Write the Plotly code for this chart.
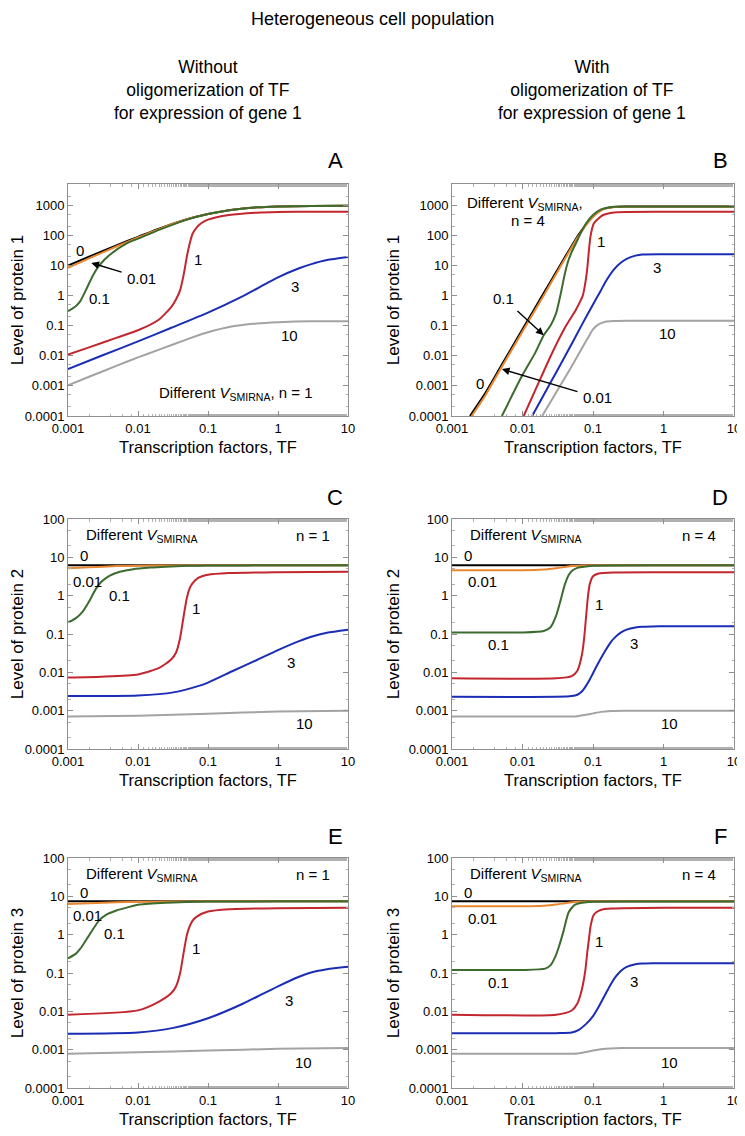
import numpy as np
import plotly.graph_objects as go

FONT = "Liberation Sans, Arial, Helvetica, sans-serif"

# ---------------- data ----------------
# Panel A : protein 1, n = 1
A0_x = [0.001, 0.002, 0.005, 0.01, 0.02, 0.05, 0.1, 0.2, 0.5, 1, 3, 10]
A0_y = [9.8, 19.5, 47, 88, 165, 340, 510, 680, 840, 900, 930, 950]
A001_x = [0.001, 0.002, 0.005, 0.01, 0.02, 0.05, 0.1, 0.2, 0.5, 1, 3, 10]
A001_y = [8.3, 17, 43, 84, 160, 337, 508, 679, 840, 900, 930, 950]
A01_x = [0.001, 0.0013, 0.0015, 0.0018, 0.0023, 0.0028, 0.004, 0.007, 0.01, 0.02, 0.05, 0.1, 0.2, 0.5, 1, 3, 10]
A01_y = [0.3, 0.45, 0.65, 1.5, 4.9, 10, 23, 55, 77, 150, 330, 505, 680, 840, 900, 930, 950]
A1_x = [0.001, 0.002, 0.005, 0.01, 0.02, 0.03, 0.035, 0.04, 0.045, 0.05, 0.055, 0.06, 0.07, 0.08, 0.1, 0.2, 0.5, 1, 3, 10]
A1_y = [0.011, 0.019, 0.04, 0.07, 0.16, 0.42, 0.75, 1.5, 5, 20, 55, 110, 190, 250, 330, 470, 560, 590, 600, 600]
A3_x = [0.001, 0.003, 0.01, 0.03, 0.1, 0.3, 1, 2, 3, 5, 10]
A3_y = [0.0036, 0.01, 0.03, 0.085, 0.27, 0.9, 4, 8, 11, 15, 19]
A10_x = [0.001, 0.002, 0.005, 0.01, 0.02, 0.05, 0.1, 0.2, 0.5, 1, 3, 10]
A10_y = [0.00105, 0.002, 0.0047, 0.0088, 0.016, 0.035, 0.06, 0.09, 0.118, 0.13, 0.14, 0.14]

# Panel B : protein 1, n = 4
B0_x = [0.0018, 0.003, 0.005, 0.01, 0.02, 0.03, 0.04, 0.05, 0.06, 0.07, 0.08, 0.1, 0.12, 0.15, 0.2, 0.3, 1, 10]
B0_y = [0.0001, 0.0006, 0.0047, 0.075, 1.2, 6, 19, 45, 90, 150, 230, 420, 600, 780, 870, 900, 900, 900]
B001_x = [0.0019, 0.003, 0.005, 0.01, 0.02, 0.03, 0.04, 0.05, 0.06, 0.07, 0.08, 0.1, 0.12, 0.15, 0.2, 0.3, 1, 10]
B001_y = [0.0001, 0.0005, 0.004, 0.064, 1.0, 5.2, 16.5, 40, 82, 140, 220, 410, 595, 775, 870, 900, 900, 900]
B01_x = [0.0051, 0.0099, 0.015, 0.02, 0.025, 0.03, 0.035, 0.04, 0.045, 0.05, 0.06, 0.07, 0.08, 0.1, 0.13, 0.2, 0.3, 1, 10]
B01_y = [0.0001, 0.0022, 0.012, 0.048, 0.1, 0.26, 1.2, 5.5, 15, 28, 68, 145, 250, 470, 720, 880, 900, 900, 900]
B1_x = [0.0104, 0.017, 0.0265, 0.041, 0.057, 0.065, 0.071, 0.075, 0.079, 0.083, 0.086, 0.092, 0.103, 0.137, 0.2, 1, 10]
B1_y = [0.0001, 0.0013, 0.0128, 0.095, 0.33, 0.6, 0.93, 1.6, 3.3, 8, 20, 90, 250, 460, 570, 600, 600]
B3_x = [0.0137, 0.02, 0.03, 0.05, 0.07, 0.1, 0.13, 0.15, 0.2, 0.25, 0.3, 0.4, 0.5, 1, 10]
B3_y = [0.0001, 0.0005, 0.0028, 0.025, 0.11, 0.5, 1.5, 2.8, 7.5, 12.5, 16.5, 21, 23, 23.5, 23.5]
B10_x = [0.019, 0.03, 0.05, 0.07, 0.09, 0.1, 0.12, 0.15, 0.2, 0.3, 1, 10]
B10_y = [0.0001, 0.0006, 0.0045, 0.018, 0.05, 0.075, 0.11, 0.135, 0.142, 0.145, 0.145, 0.145]

# Panel C : protein 2, n = 1
C0_x = [0.001, 0.01, 0.1, 1, 10]
C0_y = [6.2, 6.2, 6.2, 6.2, 6.2]
C001_x = [0.001, 0.002, 0.005, 0.01, 0.03, 0.1, 1, 10]
C001_y = [5.2, 5.5, 5.9, 6.05, 6.15, 6.2, 6.2, 6.2]
C01_x = [0.001, 0.0013, 0.0016, 0.002, 0.0025, 0.003, 0.0039, 0.0055, 0.0085, 0.015, 0.025, 0.05, 0.1, 1, 10]
C01_y = [0.2, 0.26, 0.37, 0.7, 1.5, 2.3, 3.3, 4.2, 4.9, 5.4, 5.7, 6.0, 6.1, 6.2, 6.2]
C1_x = [0.001, 0.003, 0.01, 0.02, 0.03, 0.035, 0.04, 0.045, 0.05, 0.055, 0.06, 0.07, 0.1, 0.2, 1, 10]
C1_y = [0.0073, 0.0077, 0.0088, 0.013, 0.022, 0.033, 0.08, 0.3, 0.9, 1.6, 2.1, 2.8, 3.5, 3.9, 4.1, 4.2]
C3_x = [0.001, 0.01, 0.032, 0.076, 0.1, 0.23, 0.5, 1, 2, 3, 5, 10]
C3_y = [0.0024, 0.0025, 0.003, 0.0045, 0.0054, 0.011, 0.021, 0.038, 0.065, 0.085, 0.108, 0.13]
C10_x = [0.001, 0.01, 0.1, 1, 10]
C10_y = [0.0007, 0.00074, 0.00083, 0.00095, 0.001]

# Panel D : protein 2, n = 4
D0_x = [0.001, 0.01, 0.1, 1, 10]
D0_y = [6.2, 6.2, 6.2, 6.2, 6.2]
D001_x = [0.001, 0.01, 0.02, 0.03, 0.04, 0.05, 0.07, 0.1, 1, 10]
D001_y = [4.6, 4.6, 4.8, 5.2, 5.6, 5.9, 6.1, 6.2, 6.2, 6.2]
D01_x = [0.001, 0.01, 0.02, 0.025, 0.03, 0.035, 0.04, 0.045, 0.05, 0.06, 0.08, 0.1, 1, 10]
D01_y = [0.11, 0.11, 0.12, 0.15, 0.3, 0.8, 2.0, 3.4, 4.4, 5.3, 5.8, 6.05, 6.2, 6.2]
D1_x = [0.001, 0.03, 0.05, 0.06, 0.07, 0.075, 0.08, 0.085, 0.09, 0.1, 0.12, 0.2, 1, 10]
D1_y = [0.007, 0.007, 0.008, 0.011, 0.03, 0.08, 0.3, 1.0, 2.0, 3.2, 3.8, 4.05, 4.1, 4.1]
D3_x = [0.001, 0.03, 0.05, 0.06, 0.07, 0.08, 0.09, 0.1, 0.12, 0.15, 0.18, 0.2, 0.25, 0.3, 0.4, 0.5, 0.7, 1, 10]
D3_y = [0.0023, 0.0023, 0.0024, 0.0026, 0.0032, 0.0045, 0.0065, 0.0095, 0.018, 0.037, 0.062, 0.078, 0.11, 0.13, 0.148, 0.155, 0.158, 0.16, 0.16]
D10_x = [0.001, 0.04, 0.06, 0.08, 0.1, 0.13, 0.18, 0.26, 1, 10]
D10_y = [0.0007, 0.0007, 0.00072, 0.00078, 0.00085, 0.00093, 0.00098, 0.001, 0.001, 0.001]

# Panel E : protein 3, n = 1
E0_x = [0.001, 0.01, 0.1, 1, 10]
E0_y = [7.4, 7.4, 7.4, 7.4, 7.4]
E001_x = [0.001, 0.002, 0.005, 0.01, 0.03, 0.1, 1, 10]
E001_y = [6.3, 6.6, 7.0, 7.2, 7.3, 7.4, 7.4, 7.4]
E01_x = [0.001, 0.0013, 0.0015, 0.002, 0.0028, 0.0035, 0.0048, 0.0075, 0.0105, 0.025, 0.05, 0.1, 1, 10]
E01_y = [0.24, 0.32, 0.43, 0.96, 2.4, 3.3, 4.2, 5.3, 6.1, 6.8, 7.1, 7.3, 7.4, 7.4]
E1_x = [0.001, 0.01, 0.02, 0.03, 0.035, 0.04, 0.045, 0.05, 0.055, 0.06, 0.07, 0.1, 0.2, 1, 10]
E1_y = [0.0082, 0.0106, 0.018, 0.03, 0.045, 0.1, 0.35, 1.0, 1.7, 2.3, 3.0, 4.0, 4.6, 4.9, 5.0]
E3_x = [0.001, 0.01, 0.032, 0.1, 0.32, 0.5, 1, 2, 2.8, 5, 10]
E3_y = [0.0026, 0.0028, 0.0037, 0.0066, 0.016, 0.024, 0.045, 0.08, 0.1, 0.125, 0.145]
E10_x = [0.001, 0.01, 0.1, 1, 10]
E10_y = [0.00078, 0.00085, 0.00095, 0.00105, 0.0011]

# Panel F : protein 3, n = 4
F0_x = [0.001, 0.01, 0.1, 1, 10]
F0_y = [7.4, 7.4, 7.4, 7.4, 7.4]
F001_x = [0.001, 0.01, 0.02, 0.03, 0.04, 0.05, 0.06, 0.08, 0.1, 1, 10]
F001_y = [5.5, 5.5, 5.7, 6.1, 6.6, 7.0, 7.2, 7.3, 7.4, 7.4, 7.4]
F01_x = [0.001, 0.01, 0.021, 0.025, 0.029, 0.033, 0.038, 0.045, 0.055, 0.07, 0.087, 0.1, 1, 10]
F01_y = [0.12, 0.12, 0.13, 0.16, 0.26, 0.5, 1.2, 3.8, 6.0, 6.8, 7.1, 7.2, 7.3, 7.3]
F1_x = [0.001, 0.03, 0.05, 0.06, 0.066, 0.072, 0.078, 0.083, 0.087, 0.092, 0.097, 0.1, 0.105, 0.12, 0.14, 0.18, 0.26, 1, 10]
F1_y = [0.0082, 0.0082, 0.0105, 0.016, 0.026, 0.05, 0.12, 0.35, 0.7, 1.6, 2.5, 3.0, 3.5, 4.2, 4.6, 4.8, 4.9, 5.0, 5.0]
F3_x = [0.001, 0.03, 0.05, 0.063, 0.08, 0.1, 0.12, 0.15, 0.18, 0.21, 0.25, 0.3, 0.4, 0.5, 0.7, 1, 10]
F3_y = [0.0027, 0.0027, 0.0028, 0.0033, 0.0047, 0.0075, 0.013, 0.028, 0.052, 0.08, 0.115, 0.145, 0.17, 0.177, 0.18, 0.18, 0.18]
F10_x = [0.001, 0.04, 0.06, 0.08, 0.1, 0.13, 0.18, 0.26, 1, 10]
F10_y = [0.00078, 0.00078, 0.0008, 0.00087, 0.00095, 0.00103, 0.00108, 0.0011, 0.0011, 0.0011]

V_SMIRNA = ["0", "0.01", "0.1", "1", "3", "10"]
X_TICKS = [0.001, 0.01, 0.1, 1, 10]
X_TICKTEXT = ["0.001", "0.01", "0.1", "1", "10"]
Y_TICKS_TOP = [0.0001, 0.001, 0.01, 0.1, 1, 10, 100, 1000]
Y_TICKTEXT_TOP = ["0.0001", "0.001", "0.01", "0.1", "1", "10", "100", "1000"]
Y_TICKS = [0.0001, 0.001, 0.01, 0.1, 1, 10, 100]
Y_TICKTEXT = ["0.0001", "0.001", "0.01", "0.1", "1", "10", "100"]

# ---------------- styling ----------------
COLORS = {"0": "#000000", "0.01": "#E8872F", "0.1": "#3C6B2E",
          "1": "#C2262E", "3": "#1B2DB4", "10": "#A3A3A3"}

panels = {
    1: [(A0_x, A0_y), (A001_x, A001_y), (A01_x, A01_y), (A1_x, A1_y), (A3_x, A3_y), (A10_x, A10_y)],
    2: [(B0_x, B0_y), (B001_x, B001_y), (B01_x, B01_y), (B1_x, B1_y), (B3_x, B3_y), (B10_x, B10_y)],
    3: [(C0_x, C0_y), (C001_x, C001_y), (C01_x, C01_y), (C1_x, C1_y), (C3_x, C3_y), (C10_x, C10_y)],
    4: [(D0_x, D0_y), (D001_x, D001_y), (D01_x, D01_y), (D1_x, D1_y), (D3_x, D3_y), (D10_x, D10_y)],
    5: [(E0_x, E0_y), (E001_x, E001_y), (E01_x, E01_y), (E1_x, E1_y), (E3_x, E3_y), (E10_x, E10_y)],
    6: [(F0_x, F0_y), (F001_x, F001_y), (F01_x, F01_y), (F1_x, F1_y), (F3_x, F3_y), (F10_x, F10_y)],
}

# page body has an 8px default margin: the figure is drawn 8px in from the top-left corner
OFF = 8
W, H = 745 - OFF, 1136 - 2 * OFF
def px_x(p): return (p - OFF) / W
def px_y(p): return 1 - (p - OFF) / H

col_dom = [(px_x(68), px_x(348)), (px_x(452), px_x(734))]
row_dom = [(px_y(416), px_y(184)), (px_y(749), px_y(519)), (px_y(1088), px_y(858))]

fig = go.Figure()
for idx, series in panels.items():
    sfx = "" if idx == 1 else str(idx)
    for name, (xs, ys) in zip(V_SMIRNA, series):
        fig.add_trace(go.Scatter(x=xs, y=ys, mode="lines", name=name,
                                 line=dict(color=COLORS[name], width=2, shape="spline", smoothing=0.6),
                                 xaxis="x" + sfx, yaxis="y" + sfx, showlegend=False,
                                 cliponaxis=True))

AX_COLOR = "#8f8f8f"
layout = dict(width=W, height=H, margin=dict(l=0, r=0, t=0, b=0, autoexpand=False),
              paper_bgcolor="white", plot_bgcolor="white",
              font=dict(family=FONT, color="black"), showlegend=False)

ylabels = {1: "Level of protein 1", 2: "Level of protein 1", 3: "Level of protein 2",
           4: "Level of protein 2", 5: "Level of protein 3", 6: "Level of protein 3"}
for idx in range(1, 7):
    r = (idx - 1) // 2
    c = (idx - 1) % 2
    sfx = "" if idx == 1 else str(idx)
    common = dict(type="log", showline=True, linecolor=AX_COLOR, linewidth=1, mirror="allticks",
                  ticks="inside", ticklen=5, tickcolor=AX_COLOR, tickwidth=1, showgrid=False,
                  zeroline=False, automargin=False, tickfont=dict(size=13, color="black", family=FONT),
                  minor=dict(ticks="inside", ticklen=2.5, tickcolor="#b0b0b0", showgrid=False))
    layout["xaxis" + sfx] = dict(common, domain=col_dom[c], range=[-3, 1], anchor="y" + sfx,
                                 tickvals=X_TICKS, ticktext=X_TICKTEXT,
                                 title=dict(text="Transcription factors, TF", font=dict(size=16.5), standoff=6))
    if r == 0:
        yr, tv, tt = [-4, 3.7], Y_TICKS_TOP, Y_TICKTEXT_TOP
    else:
        yr, tv, tt = [-4, 2], Y_TICKS, Y_TICKTEXT
    layout["yaxis" + sfx] = dict(common, domain=row_dom[r], range=yr, anchor="x" + sfx,
                                 tickvals=tv, ticktext=tt,
                                 title=dict(text=ylabels[idx], font=dict(size=17), standoff=4))

ann = []
def paper(text, x, y, size, xanchor="center"):
    ann.append(dict(text=text, x=px_x(x), y=px_y(y), xref="paper", yref="paper",
                    showarrow=False, font=dict(size=size, family=FONT, color="black"),
                    xanchor=xanchor, yanchor="middle"))

paper("Heterogeneous cell population", 372, 19, 18)
paper("Without<br>oligomerization of TF<br>for expression of gene 1", 208, 90, 17.5)
paper("With<br>oligomerization of TF<br>for expression of gene 1", 592, 90, 17.5)
for letter, x, y in [("A", 335, 161), ("B", 720, 161), ("C", 335, 497),
                     ("D", 720, 497), ("E", 335, 836), ("F", 720, 836)]:
    paper(letter, x, y, 22)

def lab(idx, text, x, y, size=15, xanchor="center"):
    sfx = "" if idx == 1 else str(idx)
    ann.append(dict(text=text, x=np.log10(x), y=np.log10(y), xref="x" + sfx, yref="y" + sfx,
                    showarrow=False, font=dict(size=size, family=FONT, color="black"),
                    xanchor=xanchor, yanchor="middle"))

def arrow_lab(idx, text, pos, head, size=15):
    sfx = "" if idx == 1 else str(idx)
    ann.append(dict(text=text, x=np.log10(head[0]), y=np.log10(head[1]),
                    ax=np.log10(pos[0]), ay=np.log10(pos[1]),
                    xref="x" + sfx, yref="y" + sfx, axref="x" + sfx, ayref="y" + sfx,
                    showarrow=True, arrowhead=2, arrowsize=1.1, arrowwidth=1.4,
                    arrowcolor="black", standoff=0, startstandoff=4,
                    font=dict(size=size, family=FONT, color="black")))

VS = "<i>V</i><sub>SMIRNA</sub>"
# Panel A
lab(1, "0", 0.00147, 31)
arrow_lab(1, "0.01", (0.0112, 3.8), (0.00215, 12))
lab(1, "0.1", 0.00283, 0.81)
lab(1, "1", 0.072, 15.5)
lab(1, "3", 1.73, 2.0)
lab(1, "10", 1.45, 0.046)
lab(1, "Different " + VS + ", n = 1", 0.25, 0.00055)
# Panel B
lab(2, "Different " + VS + ",", 0.011, 1150)
lab(2, "n = 4", 0.012, 320)
lab(2, "1", 0.128, 60)
lab(2, "3", 0.82, 8.2)
lab(2, "10", 1.13, 0.054)
arrow_lab(2, "0.1", (0.0054, 0.8), (0.02, 0.048))
lab(2, "0", 0.0025, 0.0012)
arrow_lab(2, "0.01", (0.115, 0.00041), (0.0051, 0.0036))
# Panels C-F
for idx, nval in [(3, "1"), (4, "4"), (5, "1"), (6, "4")]:
    lab(idx, "Different " + VS, 0.0017, 38, xanchor="left")
    lab(idx, "n = " + nval, 6.0, 38, xanchor="right")
lab(3, "0", 0.0017, 11)
lab(3, "0.01", 0.0019, 2.4)
lab(3, "0.1", 0.0055, 1.04)
lab(3, "1", 0.068, 0.45)
lab(3, "3", 1.55, 0.018)
lab(3, "10", 2.4, 0.00045)
lab(4, "0", 0.0017, 11)
lab(4, "0.01", 0.0027, 2.3)
lab(4, "0.1", 0.0045, 0.052)
lab(4, "1", 0.12, 0.6)
lab(4, "3", 0.38, 0.058)
lab(4, "10", 1.2, 0.00045)
lab(5, "0", 0.0017, 12.7)
lab(5, "0.01", 0.0019, 3.1)
lab(5, "0.1", 0.0046, 1.1)
lab(5, "1", 0.068, 0.44)
lab(5, "3", 1.45, 0.019)
lab(5, "10", 2.3, 0.00046)
lab(6, "0", 0.0017, 12.7)
lab(6, "0.01", 0.0027, 2.6)
lab(6, "0.1", 0.0045, 0.056)
lab(6, "1", 0.12, 0.65)
lab(6, "3", 0.38, 0.061)
lab(6, "10", 1.2, 0.00047)

layout["annotations"] = ann
fig.update_layout(**layout)
fig.write_html("out.html")
